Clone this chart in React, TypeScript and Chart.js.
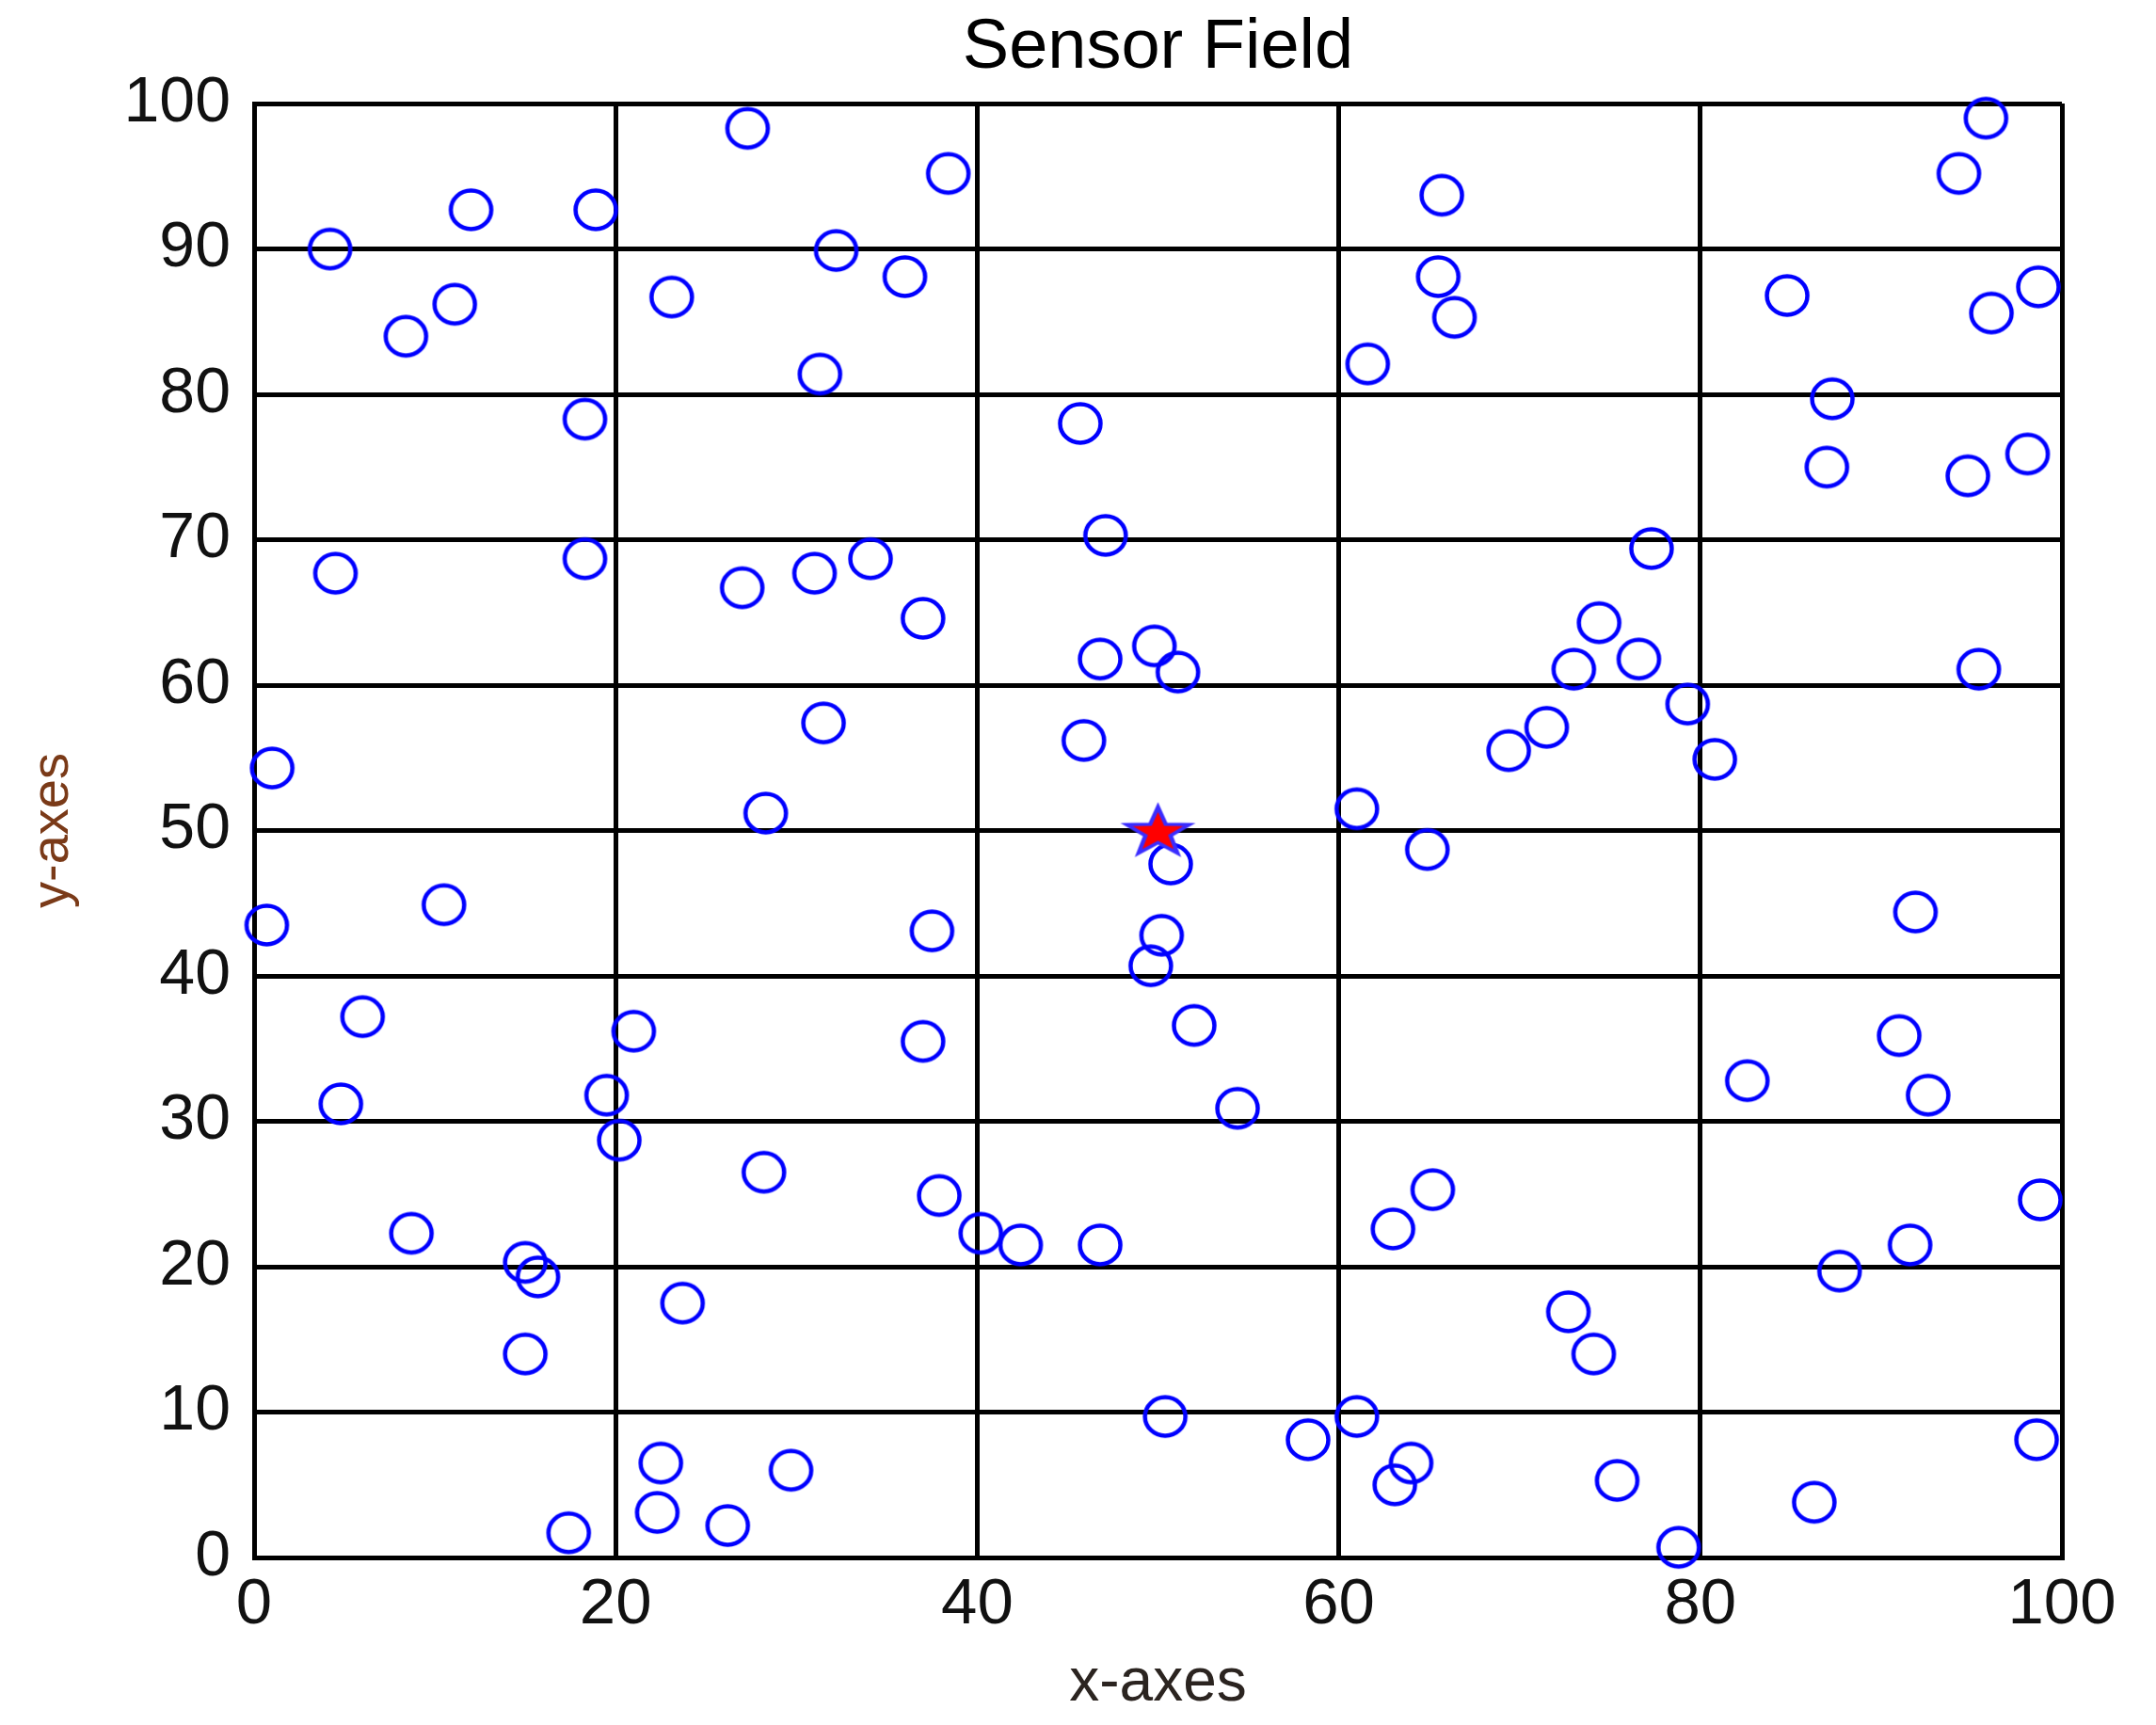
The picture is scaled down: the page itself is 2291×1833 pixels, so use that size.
import React, { useEffect, useRef } from "react";
import { Chart, registerables } from "chart.js";

Chart.register(...registerables);

// Sensor node positions (x, y)
const SENSOR_X = [
  4.2, 12.0, 11.1, 8.4, 18.9, 18.3, 4.5, 18.3, 1.0, 0.7,
  10.5, 6.0, 4.8, 8.7, 15.0, 15.7, 15.0, 17.4, 21.0, 19.5,
  20.2, 27.3, 38.4, 23.1, 32.2, 36.0, 31.3, 27.0, 31.0, 34.1,
  37.0, 31.5, 28.3, 37.5, 37.0, 28.2, 37.9, 23.7, 22.5, 22.3,
  26.2, 29.7, 40.2, 42.4, 45.7, 47.1, 46.8, 49.8, 51.1, 45.9,
  50.7, 50.2, 49.6, 52.0, 54.4, 46.8, 50.4, 58.3, 65.7, 65.5,
  66.4, 61.6, 77.3, 74.4, 73.0, 76.6, 79.3, 80.8, 71.5, 69.4,
  61.0, 64.9, 65.2, 63.0, 72.7, 74.1, 61.0, 64.0, 63.1, 75.4,
  78.8, 95.8, 94.3, 84.8, 96.1, 98.7, 87.3, 87.0, 94.8, 98.1,
  95.4, 91.9, 91.0, 92.6, 82.6, 98.8, 91.6, 87.7, 98.6, 86.3,
];
const SENSOR_Y = [
  90.0, 92.7, 86.2, 84.0, 92.7, 78.3, 67.7, 68.7, 54.3, 43.5,
  44.9, 37.2, 31.2, 22.3, 20.3, 19.3, 14.0, 1.7, 36.2, 31.8,
  28.7, 98.3, 95.2, 86.7, 89.9, 88.1, 81.4, 66.7, 67.7, 68.7,
  64.6, 57.4, 51.2, 43.1, 35.5, 26.5, 24.9, 17.5, 6.5, 3.1,
  2.2, 6.0, 22.3, 21.5, 78.0, 70.3, 61.8, 62.7, 60.9, 56.2,
  47.7, 42.8, 40.7, 36.6, 30.9, 21.5, 9.7, 8.1, 93.7, 88.1,
  85.3, 82.1, 69.4, 64.3, 61.1, 61.8, 58.7, 54.9, 57.1, 55.5,
  51.5, 48.7, 25.3, 22.6, 16.9, 14.0, 9.7, 6.5, 5.0, 5.3,
  0.7, 99.0, 95.2, 86.8, 85.6, 87.4, 79.7, 75.0, 74.4, 75.9,
  61.1, 44.4, 35.9, 31.8, 32.8, 24.6, 21.5, 19.7, 8.1, 3.8,
];
// Sink / base station
const SINK_X = [50];
const SINK_Y = [50];

const X_TICKS = [0, 20, 40, 60, 80, 100];
const Y_TICKS = [0, 10, 20, 30, 40, 50, 60, 70, 80, 90, 100];

const TITLE = "Sensor Field";
const X_TITLE = "x-axes";
const Y_TITLE = "y-axes";

const FONT = "'Liberation Sans', Arial, Helvetica, sans-serif";

function makeEllipseMarker(): HTMLCanvasElement {
  const c = document.createElement("canvas");
  c.width = 56;
  c.height = 52;
  const ctx = c.getContext("2d")!;
  ctx.strokeStyle = "#0000ff";
  ctx.lineWidth = 4.5;
  ctx.beginPath();
  ctx.ellipse(28, 26, 21.5, 20.5, 0, 0, Math.PI * 2);
  ctx.stroke();
  return c;
}

function makeStarMarker(): HTMLCanvasElement {
  const c = document.createElement("canvas");
  c.width = 88;
  c.height = 66;
  const ctx = c.getContext("2d")!;
  ctx.save();
  ctx.translate(44, 35);
  ctx.scale(1.3, 1);
  const R = 27;
  const r = R * 0.4;
  ctx.beginPath();
  for (let i = 0; i < 10; i++) {
    const a = -Math.PI / 2 + (i * Math.PI) / 5;
    const rad = i % 2 === 0 ? R : r;
    const px = Math.cos(a) * rad;
    const py = Math.sin(a) * rad;
    if (i === 0) ctx.moveTo(px, py);
    else ctx.lineTo(px, py);
  }
  ctx.closePath();
  ctx.fillStyle = "#ff0000";
  ctx.fill();
  ctx.lineWidth = 3.5;
  ctx.strokeStyle = "#3a2cff";
  ctx.stroke();
  ctx.restore();
  return c;
}

export default function App() {
  const canvasRef = useRef<HTMLCanvasElement | null>(null);

  useEffect(() => {
    const canvas = canvasRef.current;
    if (!canvas) return;
    const ellipse = makeEllipseMarker();
    const star = makeStarMarker();

    const sensors = SENSOR_X.map((x, i) => ({ x, y: SENSOR_Y[i] }));
    const sink = SINK_X.map((x, i) => ({ x, y: SINK_Y[i] }));

    const chart = new Chart(canvas, {
      type: "scatter",
      data: {
        datasets: [
          {
            label: "Sink",
            data: sink,
            pointStyle: star as any,
            pointRadius: 30,
            clip: false as any,
          },
          {
            label: "Sensors",
            data: sensors,
            pointStyle: ellipse as any,
            pointRadius: 24,
            clip: false as any,
          },
        ],
      },
      options: {
        animation: false,
        responsive: false,
        devicePixelRatio: 1,
        events: [],
        layout: {
          padding: { left: 0, right: 100, top: 0, bottom: 0 },
        },
        plugins: {
          legend: { display: false },
          tooltip: { enabled: false },
          title: {
            display: true,
            text: TITLE,
            fullSize: false,
            color: "#000000",
            font: { family: FONT, size: 74, weight: "normal", lineHeight: 1.15 },
            padding: { top: 9, bottom: 16 },
          },
        },
        scales: {
          x: {
            type: "linear",
            min: 0,
            max: 100,
            afterBuildTicks: (scale: any) => {
              scale.ticks = X_TICKS.map((v) => ({ value: v }));
            },
            afterFit: (scale: any) => {
              scale.height = 178;
            },
            grid: {
              color: "#000000",
              lineWidth: 5,
              drawTicks: false,
            },
            border: { display: true, color: "#000000", width: 5 },
            ticks: {
              color: "#111111",
              padding: 10,
              maxRotation: 0,
              font: { family: FONT, size: 69 },
            },
            title: {
              display: true,
              text: X_TITLE,
              color: "#2b2420",
              font: { family: FONT, size: 64 },
              padding: { top: 0, bottom: 5 },
            },
          },
          y: {
            type: "linear",
            min: 0,
            max: 100,
            afterBuildTicks: (scale: any) => {
              scale.ticks = Y_TICKS.map((v) => ({ value: v }));
            },
            afterFit: (scale: any) => {
              scale.width = 270;
            },
            grid: {
              color: "#000000",
              lineWidth: 5,
              drawTicks: false,
            },
            border: { display: true, color: "#000000", width: 5 },
            ticks: {
              color: "#111111",
              padding: 25,
              font: { family: FONT, size: 68 },
            },
            title: {
              display: true,
              text: Y_TITLE,
              color: "#7a3a18",
              font: { family: FONT, size: 56 },
              padding: { top: 23, bottom: 0 },
            },
          },
        },
      },
    });

    return () => {
      chart.destroy();
    };
  }, []);

  return (
    <div
      style={{
        position: "absolute",
        left: 0,
        top: 0,
        width: 2291,
        height: 1833,
        background: "#ffffff",
      }}
    >
      <canvas
        ref={canvasRef}
        width={2291}
        height={1833}
        style={{ width: 2291, height: 1833, display: "block" }}
      />
    </div>
  );
}
